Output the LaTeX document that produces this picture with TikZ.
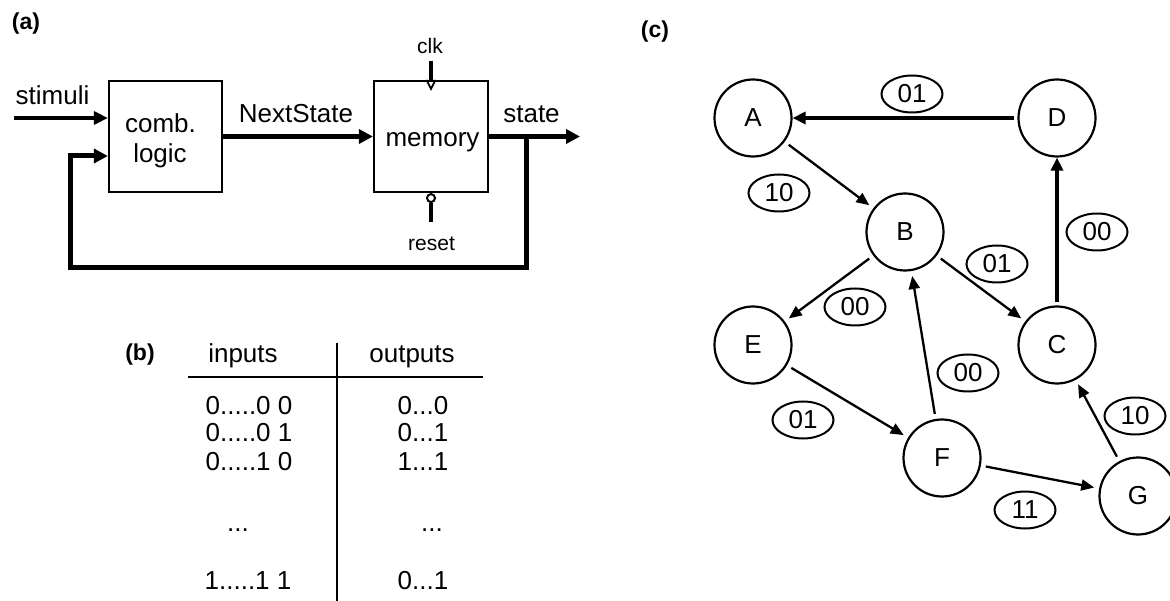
\documentclass[tikz,border=0pt]{standalone}
\usepackage{fontspec}
\setmainfont{Liberation Sans}
\usetikzlibrary{arrows.meta,shapes.geometric}
\tikzset{
  txt/.style={inner sep=0pt, font=\fontsize{26}{30}\selectfont},
  smalltxt/.style={inner sep=0pt, font=\fontsize{21}{25}\selectfont},
  tagtxt/.style={inner sep=0pt, font=\fontsize{23}{27}\selectfont\bfseries},
  blockbox/.style={draw, line width=2.2pt, inner sep=0pt},
  busarrow/.style={line width=5pt, line join=miter, -{Triangle[length=14pt,width=14pt]}},
  sigarrow/.style={line width=3.4pt, -{Triangle[length=14pt,width=13pt]}},
  sigline/.style={line width=3.4pt},
  fsmstate/.style={draw, circle, line width=2.2pt, minimum size=77pt, inner sep=0pt,
    font=\fontsize{26}{30}\selectfont},
  cond/.style={draw, ellipse, line width=2pt, minimum width=61pt, minimum height=37pt,
    inner sep=0pt, font=\fontsize{26}{30}\selectfont},
  trans/.style={line width=2.3pt, -{Triangle[length=13pt,width=11pt]},
    shorten >=5pt, shorten <=5pt},
  heavytrans/.style={line width=3.4pt, -{Triangle[length=13pt,width=12pt]}, shorten <=3pt},
  tablerule/.style={line width=2.8pt},
}
\begin{document}
\begin{tikzpicture}[x=1pt,y=-1pt]
\useasboundingbox (0,0) rectangle (1170,601);
\fill[white] (0,0) rectangle (1170,601);

% ---------- (a) sequential circuit ----------
\node[tagtxt, anchor=base] (taga) at (26,30) {(a)};
\node[blockbox, minimum width=113pt, minimum height=111pt] (comb) at (165.5,136.5) {};
\node[txt, anchor=base] (combt) at (160.5,133) {comb.};
\node[txt, anchor=base] (logict) at (160,163) {logic};
\node[blockbox, minimum width=114pt, minimum height=111pt] (mem) at (431,136.5) {};
\node[txt, anchor=base] (memt) at (432.5,147) {memory};

\node[txt, anchor=base] (stim) at (52.5,105) {stimuli};
\coordinate (stimin) at (14,118);
\draw[sigarrow] (stimin) -- (stimin -| comb.west);

\node[txt, anchor=base] (nexts) at (296,123) {NextState};
\draw[busarrow] (comb) -- (mem);

\node[txt, anchor=base] (statet) at (531.5,123) {state};
\coordinate (out) at (580,136.5);
\draw[busarrow] (mem) -- (out);

% feedback loop from the state bus back into the logic
\coordinate (tap) at (526,136.5);
\coordinate (fbR) at (526,268);
\coordinate (fbL) at (70,268);
\coordinate (fbUp) at (70,156);
\draw[busarrow] (tap) -- (fbR) -- (fbL) -- (fbUp) -- (fbUp -| comb.west);

% clock input with edge marker
\node[smalltxt, anchor=base] (clk) at (430,54) {clk};
\coordinate (clkin) at (431,61);
\draw[sigline] (clkin) -- (clkin |- mem.north);
\draw[line width=1.8pt] ([xshift=-4.5pt]mem.north) -- ++(4.5,9) -- ++(4.5,-9);

% active-low reset
\node[draw, circle, line width=2pt, minimum size=8pt, inner sep=0pt, anchor=north]
  (rbub) at (mem.south) {};
\coordinate (rst) at (431,222);
\draw[sigline] (rbub) -- (rbub |- rst);
\node[smalltxt, anchor=base] (reset) at (431.5,251) {reset};

% ---------- (b) truth table ----------
\node[tagtxt, anchor=base] (tagb) at (140,361) {(b)};
\node[txt, anchor=base] (inh) at (243,363) {inputs};
\node[txt, anchor=base] (outh) at (412,363) {outputs};
\coordinate (hl) at (188,377);
\coordinate (hr) at (483,377);
\coordinate (vt) at (337,343);
\coordinate (vb) at (337,601);
\draw[tablerule] (hl) -- (hr);
\draw[tablerule] (vt) -- (vb);

\node[txt, anchor=base] (i1) at (249,414) {0.....0 0};
\node[txt, anchor=base] (i2) at (249,442) {0.....0 1};
\node[txt, anchor=base] (i3) at (249,470) {0.....1 0};
\node[txt, anchor=base] (i4) at (238,531) {...};
\node[txt, anchor=base] (i5) at (248,589) {1.....1 1};
\node[txt, anchor=base] (o1) at (423,414) {0...0};
\node[txt, anchor=base] (o2) at (423,442) {0...1};
\node[txt, anchor=base] (o3) at (423,470) {1...1};
\node[txt, anchor=base] (o4) at (432,531) {...};
\node[txt, anchor=base] (o5) at (423,589) {0...1};

% ---------- (c) state graph ----------
\node[tagtxt, anchor=base] (tagc) at (655,38) {(c)};
\node[fsmstate] (A) at (753,118) {A};
\node[fsmstate] (B) at (905,232) {B};
\node[fsmstate] (C) at (1057,345) {C};
\node[fsmstate] (D) at (1057,118) {D};
\node[fsmstate] (E) at (753,345) {E};
\node[fsmstate] (F) at (942,458) {F};
\node[fsmstate] (G) at (1138,496) {G};

\draw[heavytrans] (D) -- (A);
\draw[heavytrans] (C) -- (D);
\draw[trans] (A) -- (B);
\draw[trans] (B) -- (E);
\draw[trans] (B) -- (C);
\draw[trans] (E) -- (F);
\draw[trans] (F) -- (B);
\draw[trans] (F) -- (G);
\draw[trans] (G) -- (C);

\node[cond] (cDA) at (912,94) {01};
\node[cond] (cAB) at (779,193) {10};
\node[cond] (cCD) at (1097,232) {00};
\node[cond] (cBC) at (997,264) {01};
\node[cond] (cBE) at (855,307) {00};
\node[cond] (cFB) at (968,373) {00};
\node[cond] (cEF) at (803,420) {01};
\node[cond] (cGC) at (1135,416) {10};
\node[cond] (cFG) at (1025,510) {11};
\end{tikzpicture}
\end{document}
